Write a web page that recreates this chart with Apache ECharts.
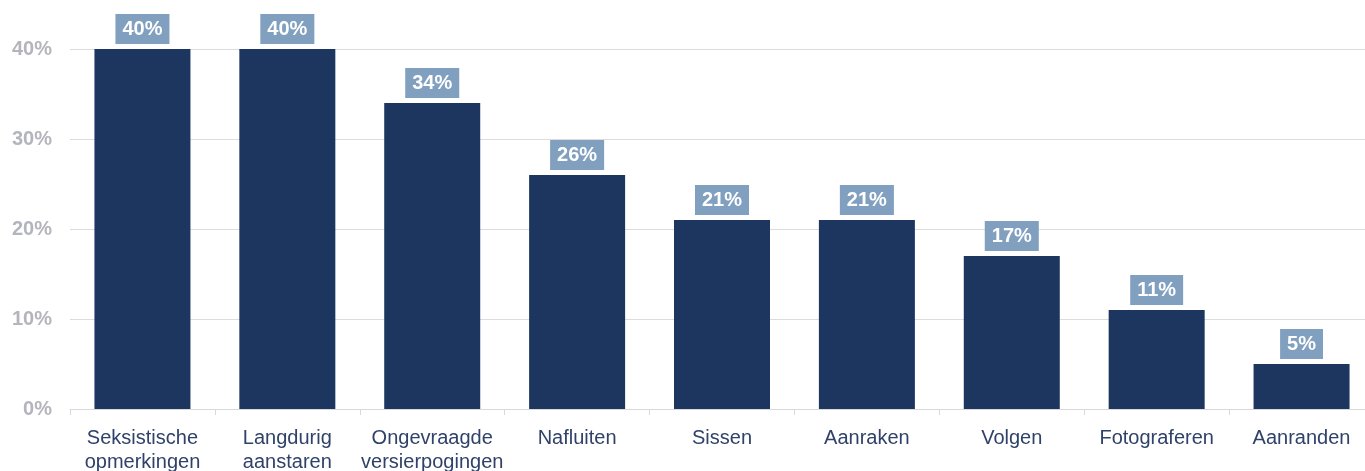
<!DOCTYPE html>
<html>
<head>
<meta charset="utf-8">
<script src="https://cdn.jsdelivr.net/npm/echarts@6/dist/echarts.min.js"></script>
<style>
html,body{margin:0;padding:0;background:#fff;}
#chart{width:1365px;height:471px;}
</style>
</head>
<body>
<div id="chart"></div>
<script>
const categories = ["Seksistische\nopmerkingen", "Langdurig\naanstaren", "Ongevraagde\nversierpogingen", "Nafluiten", "Sissen", "Aanraken", "Volgen", "Fotograferen", "Aanranden"];
const values = [40, 40, 34, 26, 21, 21, 17, 11, 5];
const yTicks = [0, 10, 20, 30, 40];

const chart = echarts.init(document.getElementById('chart'));
chart.setOption({
  animation: false,
  grid: { left: 70, right: -9, top: 49, bottom: 62, containLabel: false, outerBoundsMode: 'none' },
  xAxis: {
    type: 'category',
    data: categories,
    axisLine: { lineStyle: { color: '#d9d9d9', width: 1 } },
    axisTick: { show: true, length: 6, lineStyle: { color: '#d9d9d9' } },
    axisLabel: {
      color: '#30426a', fontSize: 20, fontFamily: 'Liberation Sans, Arial, sans-serif',
      lineHeight: 24, margin: 17, interval: 0
    }
  },
  yAxis: {
    type: 'value',
    min: yTicks[0], max: yTicks[yTicks.length - 1], interval: 10,
    axisLine: { show: false },
    axisTick: { show: false },
    splitLine: { lineStyle: { color: '#dcdcdc', width: 1 } },
    axisLabel: {
      formatter: v => v + '%',
      color: '#b4b4bd', fontSize: 20, fontWeight: 'bold',
      fontFamily: 'Liberation Sans, Arial, sans-serif', margin: 18
    }
  },
  series: [{
    type: 'bar',
    data: values,
    barWidth: 96,
    itemStyle: { color: '#1c365f' },
    label: {
      show: true, position: 'top', distance: 5,
      formatter: p => p.value + '%',
      color: '#ffffff', fontSize: 20, fontWeight: 'bold', lineHeight: 20,
      fontFamily: 'Liberation Sans, Arial, sans-serif',
      backgroundColor: '#819fbf',
      padding: [5, 7, 5, 7]
    }
  }]
});
</script>
</body>
</html>
